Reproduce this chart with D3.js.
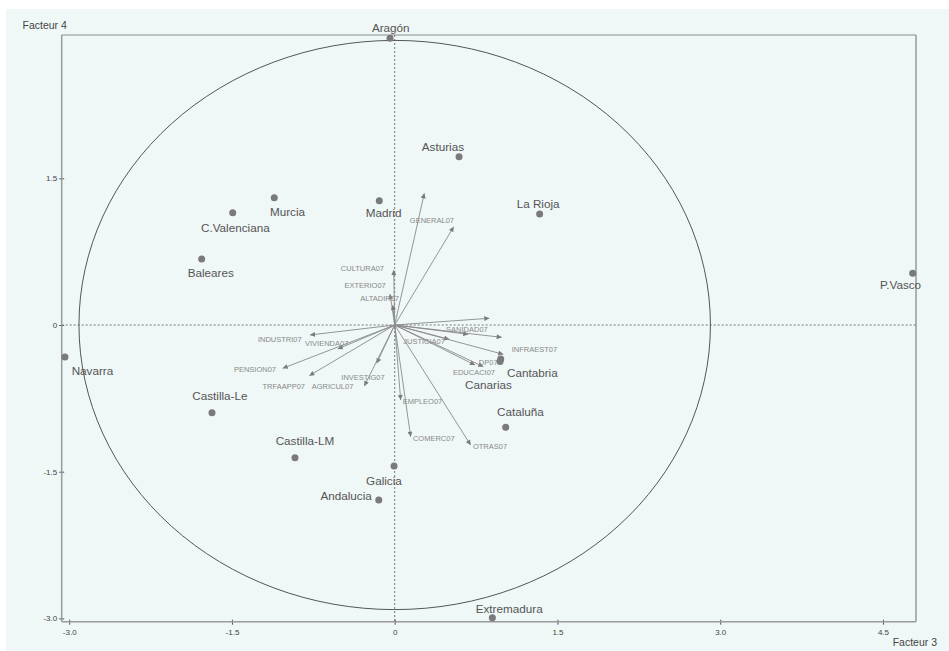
<!DOCTYPE html>
<html>
<head>
<meta charset="utf-8">
<script src="https://cdn.jsdelivr.net/npm/d3@7"></script>
<style>
  html, body { margin: 0; padding: 0; background: #ffffff; }
  svg { display: block; font-family: "Liberation Sans", Arial, sans-serif; }
</style>
</head>
<body>
<svg id="chart" width="949" height="651"></svg>
<script>
// ---------------- DATA ----------------
const regionNames = ["Aragón","Asturias","Murcia","C.Valenciana","Madrid","La Rioja","P.Vasco","Baleares","Navarra","Castilla-Le","Castilla-LM","Galicia","Andalucia","Extremadura","Cantabria","Canarias","Cataluña"];
const regionF3 = [-0.043, 0.593, -1.110, -1.493, -0.142, 1.336, 4.774, -1.779, -3.039, -1.684, -0.919, -0.006, -0.147, 0.900, 0.977, 0.971, 1.023];
const regionF4 = [2.931, 1.721, 1.302, 1.148, 1.271, 1.135, 0.529, 0.675, -0.327, -0.897, -1.357, -1.442, -1.789, -2.993, -0.348, -0.373, -1.046];

const variableNames = ["", "GENERAL07","CULTURA07","EXTERIO07","ALTADIR07","", "SANIDAD07","", "JUSTICIA07","INFRAEST07","EDUCACI07","DP07","INDUSTRI07","VIVIENDA07","PENSION07","TRFAAPP07","INVESTIG07","AGRICUL07","EMPLEO07","COMERC07","OTRAS07"];
const variableF3 = [0.273, 0.544, -0.009, -0.043, -0.018, 0.872, 0.678, 0.986, 0.503, 1.001, 0.740, 0.817, -0.781, -0.525, -1.032, -0.787, -0.166, -0.280, 0.055, 0.147, 0.700];
const variableF4 = [1.347, 1.005, 0.562, 0.317, 0.204, 0.069, -0.095, -0.126, -0.146, -0.300, -0.409, -0.426, -0.102, -0.245, -0.443, -0.518, -0.392, -0.624, -0.767, -1.142, -1.227];

const circleRadius = 2.91;
const xTicks = [-3.0, -1.5, 0, 1.5, 3.0, 4.5];
const yTicks = [-3.0, -1.5, 0, 1.5];
const xTickLabels = ["-3.0", "-1.5", "0", "1.5", "3.0", "4.5"];
const yTickLabels = ["-3.0", "-1.5", "0", "1.5"];
const xTitle = "Facteur 3";
const yTitle = "Facteur 4";

// ---------------- LAYOUT (label placement, px) ----------------
const regionLabelPos = {
  "Aragón": [0.7, -10.6, "middle"],
  "Asturias": [5, -10, "end"],
  "Murcia": [-4.3, 14, "start"],
  "C.Valenciana": [-31.7, 15, "start"],
  "Madrid": [-13.6, 12, "start"],
  "La Rioja": [-23, -10.7, "start"],
  "P.Vasco": [-32.7, 11, "start"],
  "Baleares": [-14, 13.3, "start"],
  "Navarra": [6.7, 13.7, "start"],
  "Castilla-Le": [-19.7, -17.7, "start"],
  "Castilla-LM": [-19.3, -17.7, "start"],
  "Galicia": [-28, 14.7, "start"],
  "Andalucia": [-7, -4.7, "end"],
  "Extremadura": [-16.6, -9, "start"],
  "Cantabria": [6.3, 13, "start"],
  "Canarias": [-35, 23, "start"],
  "Cataluña": [-8.7, -16, "start"]
};
const variableLabelPos = {
  "GENERAL07": [0.3, -6.7, "end"],
  "CULTURA07": [-9.7, -1.7, "end"],
  "EXTERIO07": [-4.3, -8, "end"],
  "ALTADIR07": [6.3, -6.7, "end"],
  "SANIDAD07": [-1.3, -4.3, "middle"],
  "JUSTICIA07": [-4.3, 2.7, "end"],
  "INFRAEST07": [8.4, -5.3, "start"],
  "EDUCACI07": [-1, 7.5, "middle"],
  "DP07": [-4.5, -4.5, "start"],
  "INDUSTRI07": [-8.3, 4.3, "end"],
  "VIVIENDA07": [-32.7, -5.7, "start"],
  "PENSION07": [-6.7, 0.7, "end"],
  "TRFAAPP07": [-4.3, 11, "end"],
  "AGRICUL07": [-11, 0.7, "end"],
  "INVESTIG07": [-13.7, 13.7, "middle"],
  "EMPLEO07": [2, 1, "start"],
  "COMERC07": [2.3, 1.6, "start"],
  "OTRAS07": [2.3, 1, "start"]
};

// ---------------- DRAW ----------------
const svg = d3.select("#chart");
const plot = { left: 61.7, right: 916, top: 35, bottom: 621.7 };

const x = d3.scaleLinear().domain([-3.0691, 4.8046]).range([plot.left, plot.right]);
const y = d3.scaleLinear().domain([-3.0337, 2.9652]).range([plot.bottom, plot.top]);

// background
svg.append("rect").attr("x", 6).attr("y", 9).attr("width", 943).attr("height", 642).attr("fill", "#eff7f7");

const defs = svg.append("defs");
defs.append("marker")
  .attr("id", "arrow")
  .attr("viewBox", "0 0 10 10")
  .attr("refX", 10).attr("refY", 5)
  .attr("markerWidth", 6).attr("markerHeight", 5)
  .attr("markerUnits", "userSpaceOnUse")
  .attr("orient", "auto")
  .append("path").attr("d", "M0,0 L10,5 L0,10 Z").attr("fill", "#7a7a7a");

// frame (top and right)
svg.append("line").attr("x1", plot.left).attr("x2", plot.right).attr("y1", plot.top).attr("y2", plot.top)
  .attr("stroke", "#8a8a8a").attr("stroke-width", 1);
svg.append("line").attr("x1", plot.right).attr("x2", plot.right).attr("y1", plot.top).attr("y2", plot.bottom)
  .attr("stroke", "#9a9a9a").attr("stroke-width", 1.5);

// dotted zero lines
svg.append("line").attr("x1", plot.left).attr("x2", plot.right).attr("y1", y(0)).attr("y2", y(0))
  .attr("stroke", "#777").attr("stroke-width", 1).attr("stroke-dasharray", "2,2");
svg.append("line").attr("x1", x(0)).attr("x2", x(0)).attr("y1", plot.top).attr("y2", plot.bottom)
  .attr("stroke", "#777").attr("stroke-width", 1).attr("stroke-dasharray", "2,2");

// correlation circle (ellipse in pixel space)
svg.append("ellipse")
  .attr("cx", x(0)).attr("cy", y(0))
  .attr("rx", x(circleRadius) - x(0)).attr("ry", y(0) - y(circleRadius))
  .attr("fill", "none").attr("stroke", "#555").attr("stroke-width", 1);

// axes
const xAxis = d3.axisBottom(x).tickValues(xTicks).tickSize(5).tickFormat((d, i) => xTickLabels[i]);
const gx = svg.append("g").attr("transform", `translate(0,${plot.bottom - 2})`).call(xAxis);
gx.select(".domain").remove();
gx.selectAll(".tick line").attr("stroke", "#555");
gx.selectAll(".tick text").attr("fill", "#444").attr("font-size", "8px").attr("dy", "0.9em")
  .attr("font-family", "'Liberation Sans', Arial, sans-serif");

const yAxis = d3.axisLeft(y).tickValues(yTicks).tickSize(5).tickFormat((d, i) => yTickLabels[i]);
const gy = svg.append("g").attr("transform", `translate(${plot.left + 2.5},0)`).call(yAxis);
gy.select(".domain").remove();
gy.selectAll(".tick line").attr("stroke", "#555");
gy.selectAll(".tick text").attr("fill", "#444").attr("font-size", "8px").attr("x", -7)
  .attr("font-family", "'Liberation Sans', Arial, sans-serif");

// axis lines (left and bottom)
svg.append("line").attr("x1", plot.left).attr("x2", plot.left).attr("y1", plot.top).attr("y2", plot.bottom)
  .attr("stroke", "#9a9a9a").attr("stroke-width", 1.5);
svg.append("line").attr("x1", plot.left).attr("x2", plot.right).attr("y1", plot.bottom).attr("y2", plot.bottom)
  .attr("stroke", "#9a9a9a").attr("stroke-width", 1.5);

// axis titles
svg.append("text").attr("x", 22.5).attr("y", 29).attr("fill", "#444").attr("font-size", "10.5px").text(yTitle);
svg.append("text").attr("x", 937).attr("y", 646).attr("text-anchor", "end").attr("fill", "#444").attr("font-size", "10.5px").text(xTitle);

// variables (arrows)
const vars = variableNames.map((n, i) => ({ name: n, f3: variableF3[i], f4: variableF4[i] }));
svg.append("g").selectAll("line").data(vars).join("line")
  .attr("x1", x(0)).attr("y1", y(0))
  .attr("x2", d => x(d.f3)).attr("y2", d => y(d.f4))
  .attr("stroke", "#8a8a8a").attr("stroke-width", 0.9)
  .attr("marker-end", "url(#arrow)");

svg.append("g").selectAll("text").data(vars.filter(d => d.name)).join("text")
  .attr("x", d => x(d.f3) + variableLabelPos[d.name][0])
  .attr("y", d => y(d.f4) + variableLabelPos[d.name][1])
  .attr("text-anchor", d => variableLabelPos[d.name][2])
  .attr("dominant-baseline", "central")
  .attr("font-size", "7.5px").attr("fill", "#8a8a8a")
  .text(d => d.name);

// regions (points)
const regs = regionNames.map((n, i) => ({ name: n, f3: regionF3[i], f4: regionF4[i] }));
svg.append("g").selectAll("circle").data(regs).join("circle")
  .attr("cx", d => x(d.f3)).attr("cy", d => y(d.f4)).attr("r", 3.5)
  .attr("fill", "#7a7a7a");

svg.append("g").selectAll("text").data(regs).join("text")
  .attr("x", d => x(d.f3) + regionLabelPos[d.name][0])
  .attr("y", d => y(d.f4) + regionLabelPos[d.name][1])
  .attr("text-anchor", d => regionLabelPos[d.name][2])
  .attr("dominant-baseline", "central")
  .attr("font-size", "11.7px").attr("fill", "#555")
  .text(d => d.name);
</script>
</body>
</html>
